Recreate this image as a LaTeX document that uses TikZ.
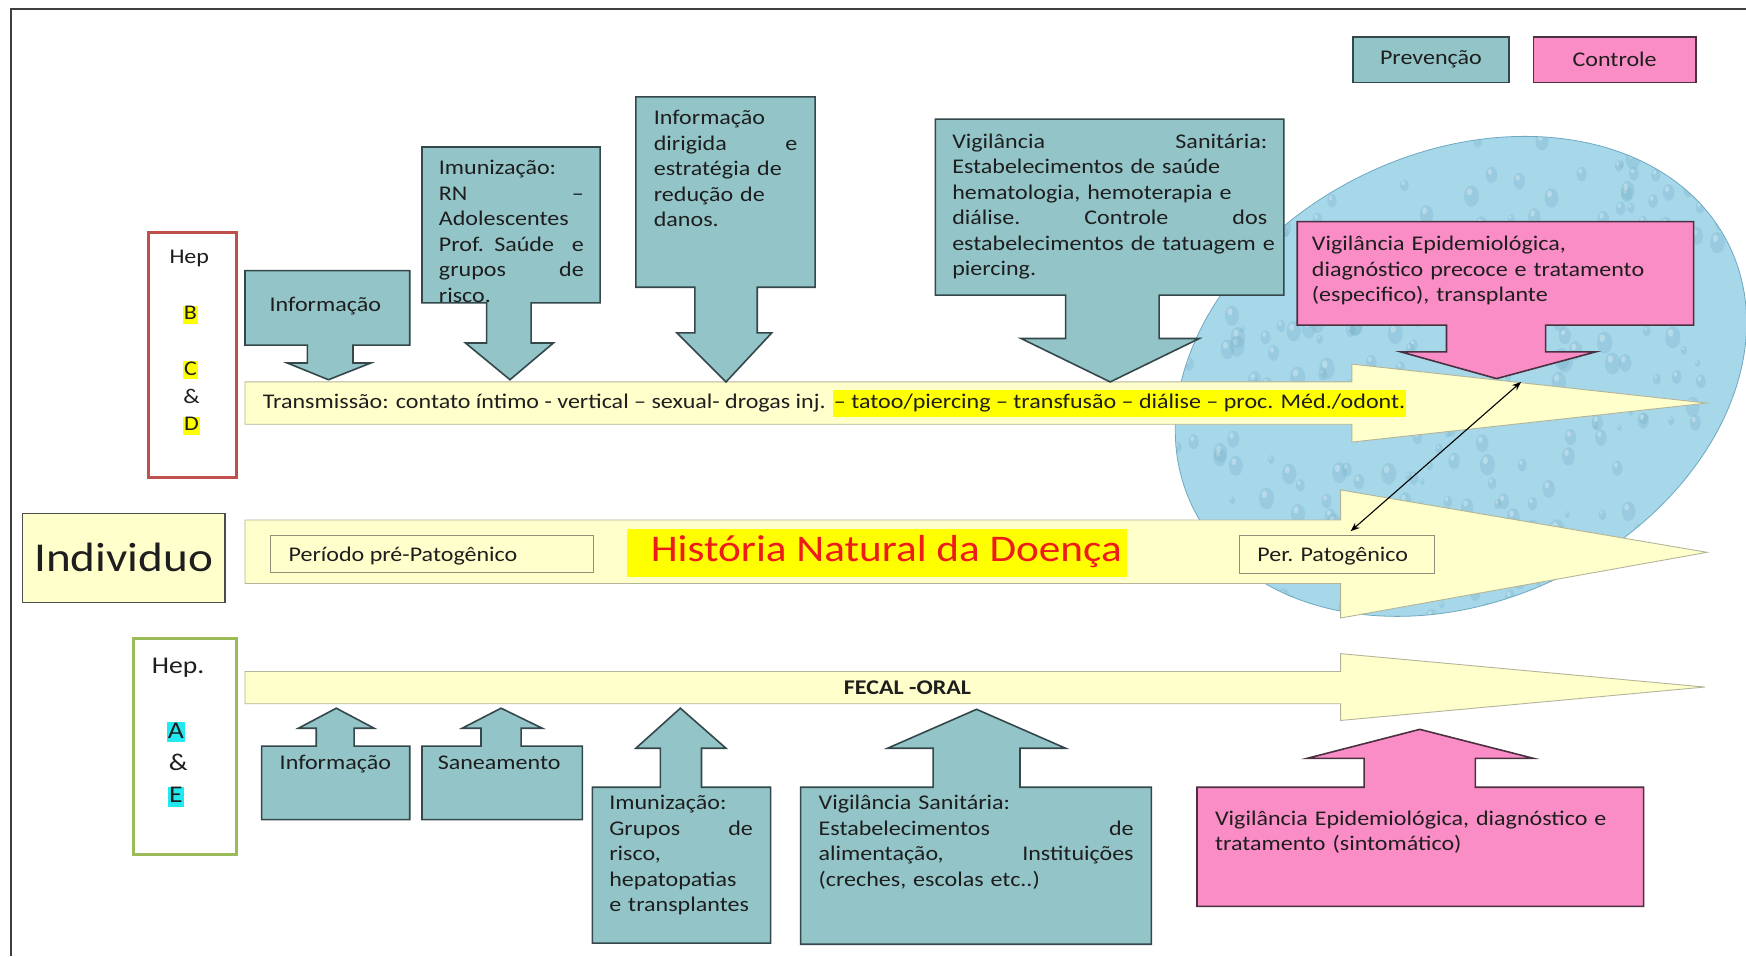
\documentclass[tikz,border=0pt]{standalone}
\usepackage{fontspec}
\setmainfont{Carlito}[FakeStretch=1.15]
\usetikzlibrary{arrows.meta}
\definecolor{prevfill}{HTML}{93C5C8}
\definecolor{prevline}{HTML}{34474A}
\definecolor{ctrlfill}{HTML}{FB8DC6}
\definecolor{ctrlline}{HTML}{4A3040}
\definecolor{paley}{HTML}{FFFFCC}
\definecolor{paleline}{HTML}{B4B49A}
\definecolor{hly}{HTML}{FFFF00}
\definecolor{hlc}{HTML}{22E8F0}
\definecolor{hepred}{HTML}{C0504D}
\definecolor{hepgreen}{HTML}{9BBB59}
\definecolor{blobfill}{HTML}{A6D8EA}
\definecolor{blobline}{HTML}{6FA8C0}
\definecolor{titlered}{HTML}{EE1B1B}
\definecolor{ink}{HTML}{1E1E1E}
\newcommand\txtA{\fontsize{20.9pt}{25.5pt}\selectfont}
\newcommand\jst[2]{\leavevmode\hbox to #1{#2}}
\begin{document}
\begin{tikzpicture}[x=1.1135pt,y=-1.1135pt,
  prev/.style={fill=prevfill,draw=prevline,line width=1.6pt,line join=miter},
  ctrl/.style={fill=ctrlfill,draw=ctrlline,line width=1.6pt,line join=miter},
  bigarrow/.style={fill=paley,draw=paleline,line width=0.9pt},
  lbl/.style={inner sep=0pt,anchor=base west,font=\txtA,text=ink},
  para/.style={lbl,align=left},
  letter/.style={inner sep=0pt,anchor=base,font=\txtA,text=ink},
  hlbox/.style={inner xsep=1pt,inner ysep=0pt,text height=14pt,text depth=4pt},
]
\useasboundingbox (0,0) rectangle (1568,858.55);
\fill[white] (0,0) rectangle (1568,858.55);
\draw[line width=2.2pt,black!75] (10,858.55) -- (10,8) -- (1568,8);

% water blob
\begin{scope}
\clip[rotate around={26:(1312,338)}] (1312,338) ellipse [x radius=268, y radius=201];
\fill[blobfill] (1000,100) rectangle (1600,600);
\pgfmathsetseed{5}
\foreach \i in {1,...,320}{
  \pgfmathsetmacro\px{1040+rnd*530}
  \pgfmathsetmacro\py{120+rnd*460}
  \pgfmathsetmacro\rr{3+rnd*7}
  \fill[blobline,opacity=0.25] (\px,\py) ellipse [x radius=\rr*0.7, y radius=\rr];
  \fill[white,opacity=0.3] (\px-\rr*0.2,\py-\rr*0.4) ellipse [x radius=\rr*0.25, y radius=\rr*0.35];
}
\end{scope}
\draw[blobline,line width=0.8pt,rotate around={26:(1312,338)}] (1312,338) ellipse [x radius=268, y radius=201];

% big arrows
\draw[bigarrow] (220,343) -- (1214,343) -- (1214,327) -- (1533,362) -- (1214,397) -- (1214,381) -- (220,381) -- cycle;
\draw[bigarrow] (220,467) -- (1204,467) -- (1204,440) -- (1533,496) -- (1204,555) -- (1204,524) -- (220,524) -- cycle;
\draw[bigarrow] (220,603) -- (1204,603) -- (1204,587) -- (1531,617) -- (1204,647) -- (1204,632) -- (220,632) -- cycle;

% top callouts
\draw[prev] (220,243) -- (368,243) -- (368,310) -- (317,310) -- (317,326) -- (333,326) -- (295,341) -- (258,326) -- (276,326) -- (276,310) -- (220,310) -- cycle;
\draw[prev] (379,132) -- (539,132) -- (539,272) -- (477,272) -- (477,308) -- (497,308) -- (458,341) -- (418,308) -- (437,308) -- (437,272) -- (379,272) -- cycle;
\draw[prev] (571,87) -- (732,87) -- (732,258) -- (680,258) -- (680,299) -- (693,299) -- (652,343) -- (608,299) -- (624,299) -- (624,258) -- (571,258) -- cycle;
\draw[prev] (840,107) -- (1153,107) -- (1153,265) -- (1041,265) -- (1041,304) -- (1077,304) -- (997,343) -- (917,304) -- (957,304) -- (957,265) -- (840,265) -- cycle;
\draw[ctrl] (1165,199) -- (1521,199) -- (1521,292) -- (1388,292) -- (1388,316) -- (1433,316) -- (1344,340) -- (1258,316) -- (1299,316) -- (1299,292) -- (1165,292) -- cycle;

% bottom callouts
\draw[prev] (235,736) -- (235,670) -- (284,670) -- (284,654) -- (268,654) -- (302,636) -- (336,654) -- (318,654) -- (318,670) -- (368,670) -- (368,736) -- cycle;
\draw[prev] (379,736) -- (379,670) -- (432,670) -- (432,654) -- (415,654) -- (450,636) -- (487,654) -- (468,654) -- (468,670) -- (523,670) -- (523,736) -- cycle;
\draw[prev] (532,847) -- (532,707) -- (593,707) -- (593,672) -- (571,672) -- (611,636) -- (652,672) -- (630,672) -- (630,707) -- (692,707) -- (692,847) -- cycle;
\draw[prev] (719,848) -- (719,707) -- (838,707) -- (838,672) -- (797,672) -- (877,637) -- (957,672) -- (916,672) -- (916,707) -- (1034,707) -- (1034,848) -- cycle;
\draw[ctrl] (1075,814) -- (1075,707) -- (1225,707) -- (1225,681) -- (1174,681) -- (1275,655) -- (1377,681) -- (1325,681) -- (1325,707) -- (1476,707) -- (1476,814) -- cycle;

% callout texts
\node[lbl] (infotop) at (242,280) {Informação};
\node[para,text width=144.8pt] (imuntop) at (394,157) {Imunização:\\\jst{144.8pt}{RN\hfill –}\\Adolescentes\\\jst{144.8pt}{Prof. Saúde\hfill e}\\\jst{144.8pt}{grupos\hfill de}\\risco.};
\node[para,text width=143.6pt] (infodir) at (587,112) {Informação\\\jst{143.6pt}{dirigida\hfill e}\\estratégia de\\redução de\\danos.};
\node[para,text width=315pt] (vigtop) at (855,133) {\jst{315pt}{Vigilância\hfill Sanitária:}\\Estabelecimentos de saúde\\hematologia, hemoterapia e\\\jst{315pt}{diálise.\hfill Controle\hfill dos}\\\mbox{estabelecimentos de tatuagem e}\\piercing.};
\node[para,text width=380pt] (epitop) at (1178,225) {Vigilância Epidemiológica,\\diagnóstico precoce e tratamento\\(especifico), transplante};

\node[lbl] (infobot) at (251,691) {Informação};
\node[lbl] (saneam) at (393,691) {Saneamento};
\node[para,text width=143.6pt] (imunbot) at (547,727) {Imunização:\\\jst{143.6pt}{Grupos\hfill de}\\risco,\\hepatopatias\\e transplantes};
\node[para,text width=315pt] (vigbot) at (735,727) {Vigilância Sanitária:\\\jst{315pt}{Estabelecimentos\hfill de}\\\jst{315pt}{alimentação,\hfill Instituições}\\(creches, escolas etc..)};
\node[para,text width=420pt] (epibot) at (1091,741) {Vigilância Epidemiológica, diagnóstico e\\tratamento (sintomático)};

% arrow texts
\node[lbl] (transm) at (236,367) {Transmissão: contato íntimo - vertical – sexual- drogas inj. {\setlength{\fboxsep}{1pt}\colorbox{hly}{\strut– tatoo/piercing – transfusão – diálise – proc. Méd./odont.}}};

\draw[paleline!80!black,line width=0.8pt] (243,481) rectangle (533,514);
\node[lbl] (prepat) at (259,504) {Período pré-Patogênico};
\fill[hly] (563,475) rectangle (1012,518);
\node[inner sep=0pt,anchor=base,font=\fontsize{37.6pt}{42pt}\selectfont,text=titlered] (hnd) at (796,504) {História Natural da Doença};
\draw[paleline!80!black,line width=0.8pt] (1113,481) rectangle (1288,515);
\node[lbl] (perpat) at (1129,504) {Per. Patogênico};
\node[letter,font=\txtA\bfseries] (fecal) at (815,624) {FECAL -ORAL};

% double arrow
\coordinate (dtop) at (1366,343);
\coordinate (dbot) at (1213,477);
\draw[black,line width=1.1pt,{Stealth[length=9pt,width=7pt]}-{Stealth[length=9pt,width=7pt]}] (dtop) -- (dbot);

% Hep B C D box
\draw[hepred,line width=3pt,fill=white] (133,209) rectangle (212,429);
\node[letter] (hepb) at (170,237) {Hep};
\node[letter,hlbox,fill=hly] (lb) at (171,287) {B};
\node[letter,hlbox,fill=hly] (lc) at (171,337) {C};
\node[letter] (lamp1) at (172,362) {\&};
\node[letter,hlbox,fill=hly] (ld) at (172,387) {D};

% Individuo
\node[draw=black!70,line width=1.4pt,fill=paley,minimum width=202.7pt,minimum height=89pt,inner sep=0pt,font=\fontsize{41pt}{46pt}\selectfont,text=ink] (indiv) at (111,501) {Individuo};

% Hep A E box
\draw[hepgreen,line width=3pt,fill=white] (120,573) rectangle (212,767);
\node[letter,font=\fontsize{24pt}{28pt}\selectfont] (hepa) at (160,605) {Hep.};
\node[letter,font=\fontsize{24pt}{28pt}\selectfont,fill=hlc,inner xsep=1pt,text height=16pt,text depth=4pt] (la) at (158,663) {A};
\node[letter,font=\fontsize{24pt}{28pt}\selectfont] (lamp2) at (160,692) {\&};
\node[letter,font=\fontsize{24pt}{28pt}\selectfont,fill=hlc,inner xsep=1pt,text height=16pt,text depth=4pt] (le) at (158,721) {E};

% legend
\node[prev,minimum width=155.9pt,minimum height=45.7pt,inner sep=0pt,font=\txtA,text=ink] (legprev) at (1285,53.5) {Prevenção};
\node[ctrl,minimum width=162.6pt,minimum height=45.7pt,inner sep=0pt,font=\txtA,text=ink] (legctrl) at (1450,53.5) {Controle};
\end{tikzpicture}
\end{document}
